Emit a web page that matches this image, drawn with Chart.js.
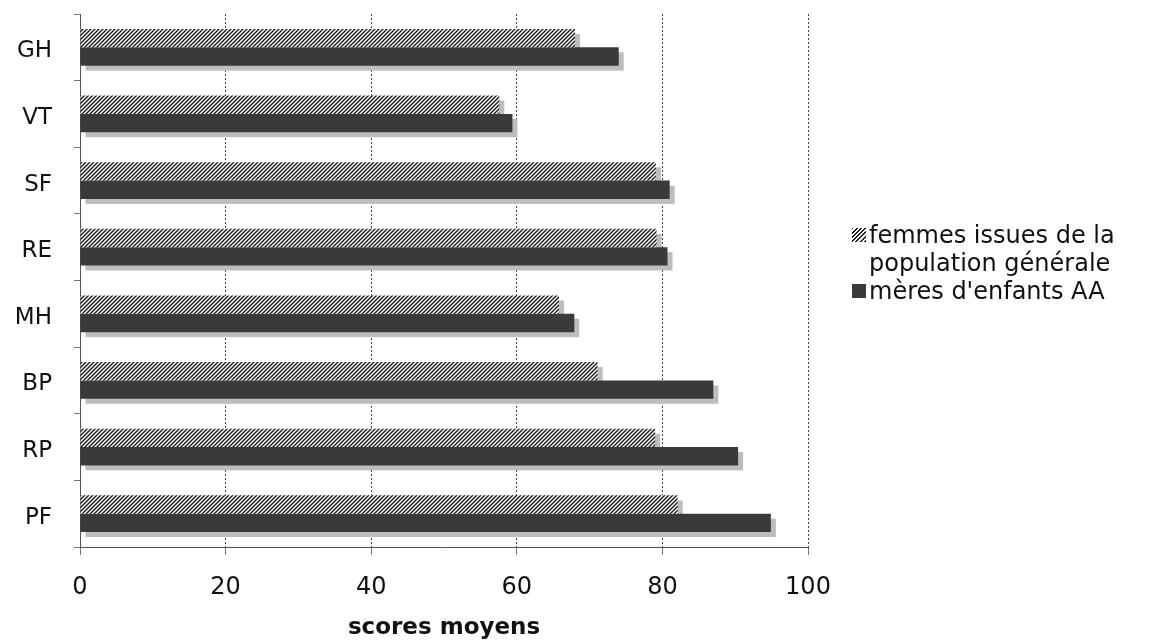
<!DOCTYPE html>
<html><head><meta charset="utf-8">
<script src="https://cdn.jsdelivr.net/npm/chart.js@4/dist/chart.umd.min.js"></script>
<style>
html,body{margin:0;padding:0;background:#fff;}
#wrap{position:relative;width:1161px;height:642px;}
#legend{position:absolute;left:852px;top:221px;font-family:'DejaVu Sans',sans-serif;font-size:24px;color:#111;line-height:28px;}
.item{position:relative;padding-left:17px;}
.sw{position:absolute;left:0;top:7px;width:14px;height:14px;}
.hatch{background:repeating-linear-gradient(135deg,#222 0 1.3px,#fff 1.3px 3px);}
.dark{background:#3a3a3a;}
</style></head><body>
<div id="wrap"><canvas id="c" width="1161" height="642"></canvas>
<div id="legend"></div></div>
<script>
const categories = ['GH','VT','SF','RE','MH','BP','RP','PF'];
const seriesNames = ['femmes issues de la population générale', "mères d'enfants AA"];
const femmesGenerale = [68, 57.6, 79.1, 79.2, 65.8, 71.1, 79, 82.1];
const meresAA = [74, 59.4, 81, 80.7, 67.9, 87, 90.4, 94.9];
const xTicks = [0, 20, 40, 60, 80, 100];

const FONT = "'DejaVu Sans', sans-serif";

function hatchPattern(){
  const c=document.createElement('canvas'); c.width=4; c.height=4;
  const x=c.getContext('2d');
  x.fillStyle='#fff'; x.fillRect(0,0,4,4);
  x.strokeStyle='#1a1a1a'; x.lineWidth=1.4;
  x.beginPath();
  x.moveTo(0,4); x.lineTo(4,0);
  x.moveTo(-1,1); x.lineTo(1,-1);
  x.moveTo(3,5); x.lineTo(5,3);
  x.stroke();
  return x.createPattern(c,'repeat');
}

const shadowPlugin = {
  id:'shadow',
  beforeDatasetsDraw(chart){
    const ctx=chart.ctx; ctx.save(); ctx.fillStyle='#bdbdbd';
    chart.getSortedVisibleDatasetMetas().forEach(meta=>{
      meta.data.forEach(el=>{
        const p=el.getProps(['x','y','base','height'],true);
        ctx.fillRect(Math.min(p.base,p.x)+5, p.y-p.height/2+5, Math.abs(p.x-p.base), p.height);
      });
    });
    ctx.restore();
  }
};

new Chart(document.getElementById('c'), {
  type:'bar',
  data:{
    labels:categories,
    datasets:[
      {label:seriesNames[0], data:femmesGenerale, backgroundColor:hatchPattern(), borderWidth:0},
      {label:seriesNames[1], data:meresAA, backgroundColor:'#3a3a3a', borderWidth:0}
    ]
  },
  options:{
    indexAxis:'y',
    responsive:false,
    animation:false,
    devicePixelRatio:1,
    categoryPercentage:0.55,
    barPercentage:1,
    layout:{padding:{left:0,right:353,top:14,bottom:0}},
    plugins:{legend:{display:false}, tooltip:{enabled:false}},
    scales:{
      x:{
        min:0,max:100,
        afterBuildTicks(s){ s.ticks = xTicks.map(v=>({value:v})); },
        ticks:{font:{family:FONT,size:24},color:'#111',padding:18,maxRotation:0},
        grid:{color:'#444',lineWidth:1,tickLength:8,tickColor:'#777'},
        border:{display:true,color:'#555',width:1,dash:[2,2]},
        title:{display:true,text:'scores moyens',color:'#111',font:{family:FONT,size:23,weight:'bold'},padding:{top:2,bottom:0}},
        afterFit(s){ s.height=95; }
      },
      y:{
        ticks:{font:{family:FONT,size:23},color:'#111',padding:22,labelOffset:4},
        grid:{drawOnChartArea:false,tickLength:6,color:'#777'},
        border:{display:true,color:'#555',width:1},
        afterFit(s){ s.width=80; s.paddingTop=0; s.paddingBottom=0; }
      }
    }
  },
  plugins:[shadowPlugin]
});

const lg=document.getElementById('legend');
lg.innerHTML =
  '<div class="item"><span class="sw hatch"></span>femmes issues de la<br>population générale</div>'+
  '<div class="item"><span class="sw dark"></span>'+seriesNames[1].replace("'","&#39;")+'</div>';
</script>
</body></html>
